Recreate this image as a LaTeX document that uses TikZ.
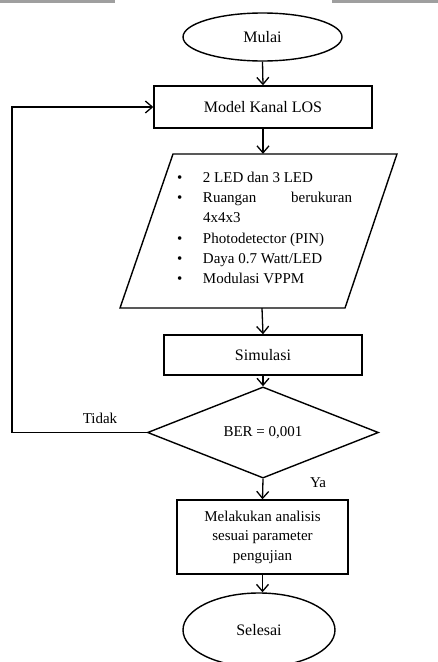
\documentclass[tikz,border=0pt]{standalone}
\usepackage{fontspec}
\setmainfont{Liberation Serif}
\usetikzlibrary{shapes.geometric,arrows.meta}
\tikzset{
  box/.style={draw, line width=1.4pt, rectangle, inner sep=0pt, font=\fontsize{16}{20}\selectfont},
  term/.style={draw, line width=1.4pt, ellipse, inner sep=0pt, font=\fontsize{16}{20}\selectfont},
  decision/.style={draw, line width=1.4pt, diamond, inner sep=0pt, font=\fontsize{15}{20}\selectfont},
  flow/.style={line width=1.3pt, -{Straight Barb[length=7pt,width=12pt,line width=1.3pt]}},
  lbl/.style={inner sep=0pt, font=\fontsize{15}{20}\selectfont}
}
\begin{document}
\begin{tikzpicture}[x=1pt,y=-1pt]
\useasboundingbox (0,0) rectangle (438,662);
\fill[white] (0,0) rectangle (438,662);
\fill[gray!75] (0,0) rectangle (115,2.5);
\fill[gray!75] (332,0) rectangle (438,2.5);

\node[term, minimum width=159pt, minimum height=48pt] (start) at (262.5,37) {Mulai};
\node[box, minimum width=218pt, minimum height=42pt] (model) at (263,107) {Model Kanal LOS};

% parallelogram (input/output)
\node[inner sep=0pt, minimum width=224pt, minimum height=154pt] (io) at (262,231) {};
\draw[line width=1.4pt] (173,154) -- (397,154) -- (345,308) -- (120,308) -- cycle;
\node[inner sep=0pt, font=\fontsize{15}{20.3}\selectfont] (iotext) at (264.5,229) {%
\renewcommand{\arraystretch}{1}%
\begin{tabular}{@{}p{26pt}@{}p{149pt}@{}}
\textbullet & 2 LED dan 3 LED\\
\textbullet & Ruangan\hfill berukuran\newline 4x4x3\\
\textbullet & Photodetector (PIN)\\
\textbullet & Daya 0.7 Watt/LED\\
\textbullet & Modulasi VPPM
\end{tabular}};

\node[box, minimum width=198pt, minimum height=40pt] (sim) at (263,355) {Simulasi};
\node[decision, minimum width=231pt, minimum height=69pt] (dec) at (263,432.5) {BER = 0,001};
\node[box, minimum width=171pt, minimum height=74pt, align=center, font=\fontsize{15}{19.5}\selectfont] (anal) at (262.5,537) {Melakukan analisis\\sesuai parameter\\pengujian};
\node[term, minimum width=152pt, minimum height=74pt] (end) at (259,630) {Selesai};

\coordinate (loopc) at (12,432.5);

\draw[flow] (start.south) -- (model.north);
\draw[flow] (model.south) -- (model.south |- io.north);
\draw[flow] (io.south) -- (sim.north);
\draw[flow] (sim.south) -- (dec.north);
\draw[flow] (dec.south) -- (anal.north);
\draw[flow] (anal.south) -- (anal.south |- end.north);
\draw[flow] (dec.west) -- (loopc) |- (model.west);

\node[lbl] (tidak) at (100,418) {Tidak};
\node[lbl] (ya) at (318,483) {Ya};
\end{tikzpicture}
\end{document}
